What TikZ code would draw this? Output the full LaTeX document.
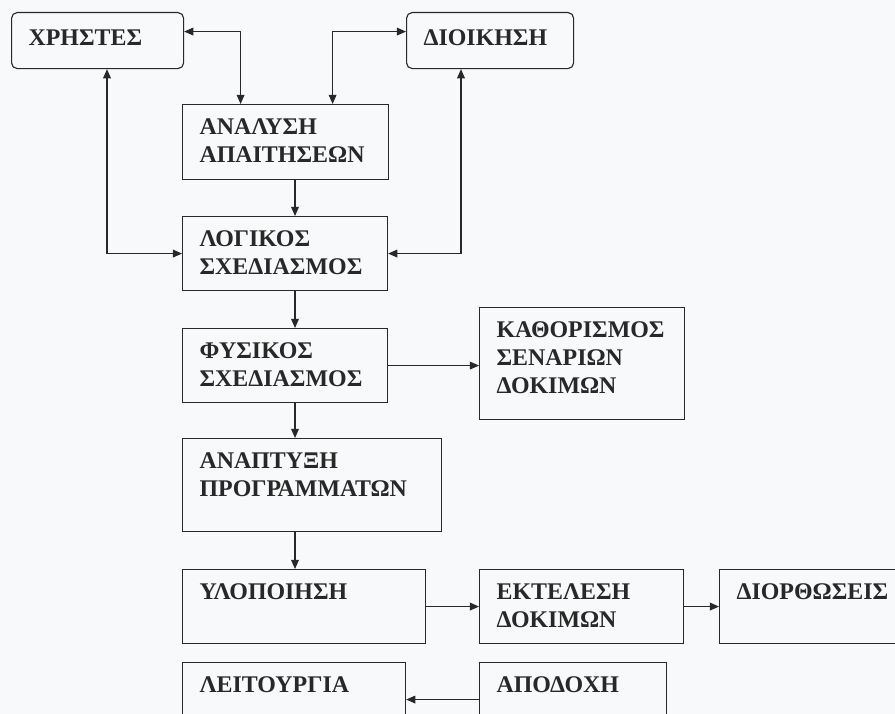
\documentclass[tikz,border=0pt]{standalone}
\usepackage{fontspec}
\setmainfont{Liberation Serif}
\usepackage{tikz}
\usetikzlibrary{arrows.meta,calc}
\definecolor{figline}{RGB}{40,40,40}
\definecolor{figpaper}{RGB}{248,249,250}
\tikzset{
  blk/.style ={draw=figline, line width=0.8pt, anchor=north west, align=left,
               font=\fontsize{17}{20}\selectfont\bfseries, text=figline,
               inner xsep=0.425cm, inner ysep=0pt, text height=0.75cm},
  rblk/.style={blk, rounded corners=4pt, text height=0.825cm},
  ptr/.style ={draw=figline, line width=0.8pt, -{Triangle[length=6.5pt,width=5.5pt]}},
  dptr/.style={ptr, {Triangle[length=6.5pt,width=5.5pt]}-{Triangle[length=6.5pt,width=5.5pt]}},
}
\begin{document}
\begin{tikzpicture}[x=0.025cm,y=-0.025cm]
  \fill[figpaper,use as bounding box] (0,0) rectangle (895,714);
  % columns of the vertical connectors
  \coordinate (lcol) at (107,0);
  \coordinate (rcol) at (461,0);
  \coordinate (spine) at (295,0);
  % blocks
  \node[rblk, text width=3.45cm, text depth=0.575cm] (users) at (11,12) {ΧΡΗΣΤΕΣ};
  \node[rblk, text width=3.325cm, text depth=0.575cm] (admin) at (406,12) {ΔΙΟΙΚΗΣΗ};
  \node[blk, text width=4.3cm, text depth=1.125cm] (reqs) at (182,104) {ΑΝΑΛΥΣΗ\\ΑΠΑΙΤΗΣΕΩΝ};
  \node[blk, text width=4.275cm, text depth=1.1cm] (logic) at (182,216) {ΛΟΓΙΚΟΣ\\ΣΧΕΔΙΑΣΜΟΣ};
  \node[blk, text width=4.275cm, text depth=1.1cm] (phys) at (182,328) {ΦΥΣΙΚΟΣ\\ΣΧΕΔΙΑΣΜΟΣ};
  \node[blk, text width=4.275cm, text depth=2.05cm] (tests) at (479,307) {ΚΑΘΟΡΙΣΜΟΣ\\ΣΕΝΑΡΙΩΝ\\ΔΟΚΙΜΩΝ};
  \node[blk, text width=5.625cm, text depth=1.575cm] (progs) at (182,438) {ΑΝΑΠΤΥΞΗ\\ΠΡΟΓΡΑΜΜΑΤΩΝ};
  \node[blk, text width=5.225cm, text depth=1.1cm] (impl) at (182,569) {ΥΛΟΠΟΙΗΣΗ};
  \node[blk, text width=4.25cm, text depth=1.1cm] (run) at (479,569) {ΕΚΤΕΛΕΣΗ\\ΔΟΚΙΜΩΝ};
  \node[blk, text width=4.25cm, text depth=1.1cm] (fixes) at (719,569) {ΔΙΟΡΘΩΣΕΙΣ};
  \node[blk, text width=4.725cm, text depth=1.1cm] (oper) at (182,662) {ΛΕΙΤΟΥΡΓΙΑ};
  \node[blk, text width=3.825cm, text depth=1.1cm] (accept) at (479,662) {ΑΠΟΔΟΧΗ};
  % feedback from users and administration
  \draw[dptr] ([yshift=0.225cm]users.east) -| ([xshift=-1.125cm]reqs.north);
  \draw[dptr] ([yshift=0.225cm]admin.west) -| ([xshift=1.175cm]reqs.north);
  \draw[dptr] (users.south -| lcol) |- (logic.west);
  \draw[dptr] (admin.south -| rcol) |- (logic.east);
  % main flow
  \draw[ptr] (reqs.south -| spine) -- (logic.north -| spine);
  \draw[ptr] (logic.south -| spine) -- (phys.north -| spine);
  \draw[ptr] (phys.south -| spine) -- (progs.north -| spine);
  \draw[ptr] (progs.south -| spine) -- (impl.north -| spine);
  \draw[ptr] (phys.east) -- (phys.east -| tests.west);
  \draw[ptr] (impl.east) -- (run.west);
  \draw[ptr] (run.east) -- (fixes.west);
  \draw[ptr] (accept.west) -- (oper.east);
\end{tikzpicture}
\end{document}
